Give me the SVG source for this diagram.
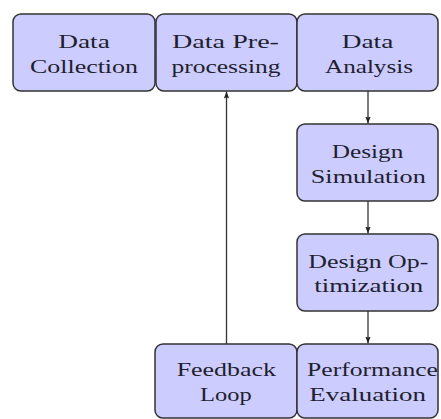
<svg xmlns="http://www.w3.org/2000/svg" width="441" height="419" viewBox="0 0 441 419">
  <style>
    .box { fill: #ccccff; stroke: #333333; stroke-width: 1.5; }
    .lbl { font-family: "Liberation Serif", "DejaVu Serif", serif; font-size: 18.5px; fill: #1f1f2e; text-anchor: middle; }
    .edge { stroke: #333333; stroke-width: 1.3; fill: none; }
  </style>
  <defs>
    <marker id="arrow" markerUnits="userSpaceOnUse" markerWidth="8" markerHeight="6" refX="7" refY="3" orient="auto">
      <path d="M0,0.3 L7,3 L0,5.7 L1.2,3 Z" fill="#222222"/>
    </marker>
  </defs>

  <rect width="441" height="419" fill="#ffffff"/>

  <!-- connectors -->
  <g id="connectors">
    <line class="edge" x1="162" y1="52" x2="155.5" y2="52" marker-end="url(#arrow)"/>
    <line class="edge" x1="304" y1="52" x2="297.5" y2="52" marker-end="url(#arrow)"/>
    <line class="edge" x1="368" y1="91" x2="368" y2="123.5" marker-end="url(#arrow)"/>
    <line class="edge" x1="368" y1="201" x2="368" y2="233.5" marker-end="url(#arrow)"/>
    <line class="edge" x1="368" y1="311" x2="368" y2="343.5" marker-end="url(#arrow)"/>
    <line class="edge" x1="289" y1="382" x2="296.5" y2="382" marker-end="url(#arrow)"/>
    <line class="edge" x1="226.5" y1="344" x2="226.5" y2="91.5" marker-end="url(#arrow)"/>
  </g>

  <g id="data-collection">
    <rect class="box" x="13" y="14" width="142" height="77" rx="8"/>
    <text class="lbl" x="84" y="48.3" textLength="51.6" lengthAdjust="spacingAndGlyphs">Data</text>
    <text class="lbl" x="84" y="73.3" textLength="108" lengthAdjust="spacingAndGlyphs">Collection</text>
  </g>

  <g id="data-preprocessing">
    <rect class="box" x="156" y="14" width="141" height="77" rx="8"/>
    <text class="lbl" x="225.5" y="48.3" textLength="107" lengthAdjust="spacingAndGlyphs">Data Pre-</text>
    <text class="lbl" x="226" y="73.3" textLength="109" lengthAdjust="spacingAndGlyphs">processing</text>
  </g>

  <g id="data-analysis">
    <rect class="box" x="297" y="14" width="141" height="77" rx="8"/>
    <text class="lbl" x="367.5" y="48.3" textLength="51.6" lengthAdjust="spacingAndGlyphs">Data</text>
    <text class="lbl" x="369" y="73.3" textLength="88" lengthAdjust="spacingAndGlyphs">Analysis</text>
  </g>

  <g id="design-simulation">
    <rect class="box" x="297" y="124" width="141" height="77" rx="8"/>
    <text class="lbl" x="367.5" y="157.5" textLength="71.6" lengthAdjust="spacingAndGlyphs">Design</text>
    <text class="lbl" x="368.3" y="182.5" textLength="115" lengthAdjust="spacingAndGlyphs">Simulation</text>
  </g>

  <g id="design-optimization">
    <rect class="box" x="297" y="234" width="141" height="77" rx="8"/>
    <text class="lbl" x="368.3" y="268" textLength="120" lengthAdjust="spacingAndGlyphs">Design Op-</text>
    <text class="lbl" x="368.8" y="292" textLength="109" lengthAdjust="spacingAndGlyphs">timization</text>
  </g>

  <g id="feedback-loop">
    <rect class="box" x="155" y="344" width="142" height="74" rx="8"/>
    <text class="lbl" x="226.3" y="376" textLength="99.3" lengthAdjust="spacingAndGlyphs">Feedback</text>
    <text class="lbl" x="225.8" y="401" textLength="51.7" lengthAdjust="spacingAndGlyphs">Loop</text>
  </g>

  <g id="performance-evaluation">
    <rect class="box" x="297" y="344" width="141" height="74" rx="8"/>
    <text class="lbl" x="372.5" y="376" textLength="131" lengthAdjust="spacingAndGlyphs">Performance</text>
    <text class="lbl" x="367.7" y="401" textLength="116.7" lengthAdjust="spacingAndGlyphs">Evaluation</text>
  </g>
</svg>
